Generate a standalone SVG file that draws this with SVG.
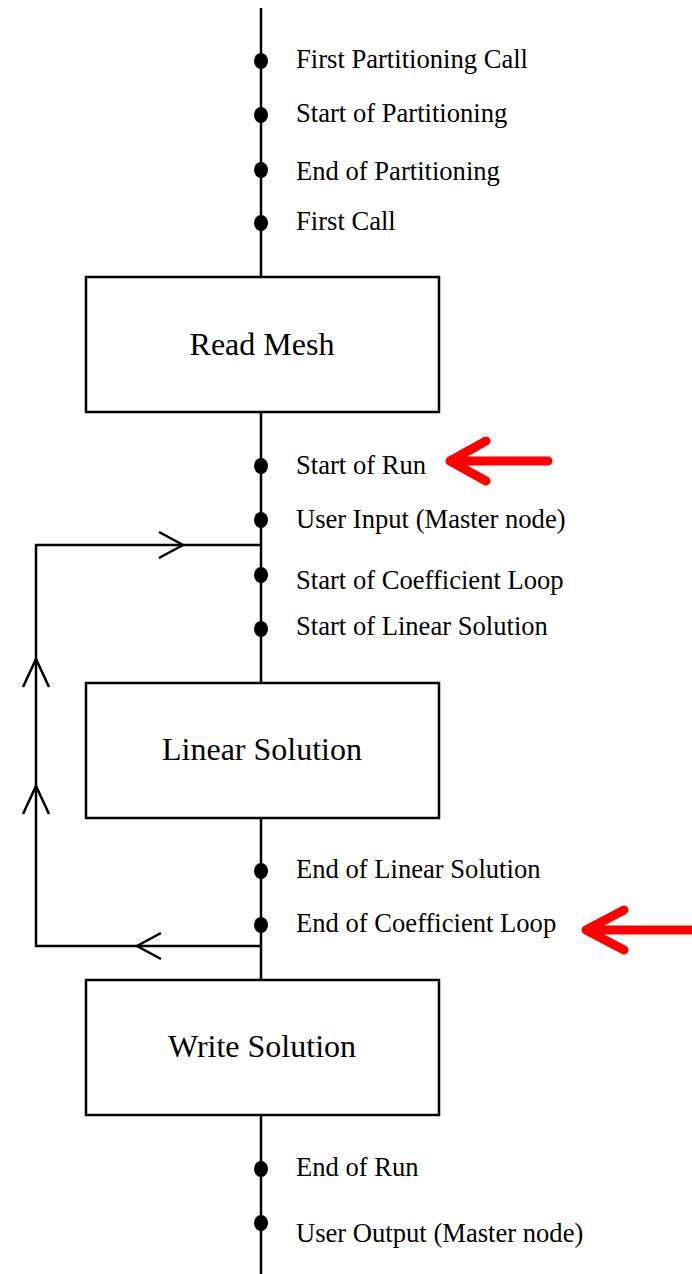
<svg xmlns="http://www.w3.org/2000/svg" width="692" height="1274" viewBox="0 0 692 1274">
<style>
.ln{stroke:#000;stroke-width:2.5;fill:none}
.box{stroke:#000;stroke-width:2.5;fill:#fff}
.lbl{font-family:"Liberation Serif","Times New Roman",serif;font-size:26.6px;fill:#000}
.blbl{font-family:"Liberation Serif","Times New Roman",serif;font-size:32px;fill:#000;text-anchor:middle}
.red{stroke:#ff0000;stroke-width:9;fill:none;stroke-linecap:round;stroke-linejoin:round}
.dot{fill:#000}
</style>
<g id="connectors">
<line class="ln" x1="261" y1="8" x2="261" y2="1274"/>
<polyline class="ln" points="261,545 36,545 36,946 261,946"/>
<polyline class="ln" points="159,532 183,545 159,558"/>
<polyline class="ln" points="161,933 137,946 161,959"/>
<polyline class="ln" points="23,687 36,659 49,687"/>
<polyline class="ln" points="23,814 36,786 49,814"/>
</g>
<g id="markers">
<ellipse class="dot" cx="261" cy="61" rx="7" ry="8"/>
<ellipse class="dot" cx="261" cy="115" rx="7" ry="8"/>
<ellipse class="dot" cx="261" cy="170" rx="7" ry="8"/>
<ellipse class="dot" cx="261" cy="223" rx="7" ry="8"/>
<ellipse class="dot" cx="261" cy="466" rx="7" ry="8"/>
<ellipse class="dot" cx="261" cy="520" rx="7" ry="8"/>
<ellipse class="dot" cx="261" cy="575" rx="7" ry="8"/>
<ellipse class="dot" cx="261" cy="629" rx="7" ry="8"/>
<ellipse class="dot" cx="261" cy="871" rx="7" ry="8"/>
<ellipse class="dot" cx="261" cy="925" rx="7" ry="8"/>
<ellipse class="dot" cx="261" cy="1169" rx="7" ry="8"/>
<ellipse class="dot" cx="261" cy="1223" rx="7" ry="8"/>
</g>
<g id="labels">
<text class="lbl" x="296" y="68">First Partitioning Call</text>
<text class="lbl" x="296" y="122">Start of Partitioning</text>
<text class="lbl" x="296" y="180">End of Partitioning</text>
<text class="lbl" x="296" y="230">First Call</text>
<text class="lbl" x="296" y="474">Start of Run</text>
<text class="lbl" x="296" y="528">User Input (Master node)</text>
<text class="lbl" x="296" y="589">Start of Coefficient Loop</text>
<text class="lbl" x="296" y="635">Start of Linear Solution</text>
<text class="lbl" x="296" y="878">End of Linear Solution</text>
<text class="lbl" x="296" y="932">End of Coefficient Loop</text>
<text class="lbl" x="296" y="1176">End of Run</text>
<text class="lbl" x="296" y="1242">User Output (Master node)</text>
</g>
<g id="read-mesh">
<rect class="box" x="86" y="277" width="353" height="135"/>
<text class="blbl" x="262" y="355">Read Mesh</text>
</g>
<g id="linear-solution">
<rect class="box" x="86" y="683" width="353" height="135"/>
<text class="blbl" x="262" y="760">Linear Solution</text>
</g>
<g id="write-solution">
<rect class="box" x="86" y="980" width="353" height="135"/>
<text class="blbl" x="262" y="1057">Write Solution</text>
</g>
<g id="highlight-arrows">
<path class="red" d="M548,461 H452 M486,441 L450,461 L486,481"/>
<path class="red" d="M692,930 H588 M624,910 L586,930 L624,950"/>
</g>
</svg>
